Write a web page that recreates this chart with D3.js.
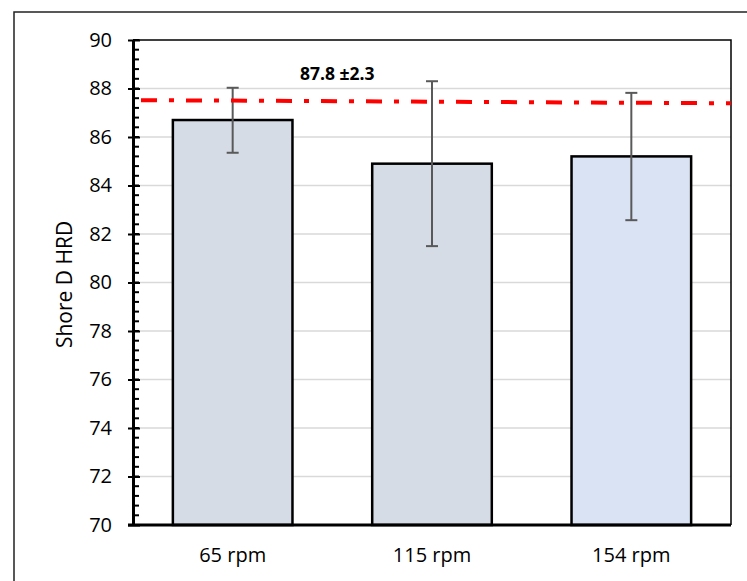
<!DOCTYPE html>
<html>
<head>
<meta charset="utf-8">
<script src="https://cdn.jsdelivr.net/npm/d3@7/dist/d3.min.js"></script>
<style>
  html, body { margin: 0; padding: 0; background: #fff; }
  svg { display: block; font-family: "Open Sans", "Liberation Sans", sans-serif; }
</style>
</head>
<body>
<script>
const categories = ["65 rpm", "115 rpm", "154 rpm"];
const means = [86.7, 84.9, 85.2];
const errUpper = [88.03, 88.3, 87.82];
const errLower = [85.35, 81.5, 82.57];
const barColors = ["#d6dce5", "#d6dce5", "#dae3f3"];
const yTicks = [70, 72, 74, 76, 78, 80, 82, 84, 86, 88, 90];
const refLineValues = [87.52, 87.39];
const refLabel = "87.8 ±2.3";
const yTitle = "Shore D HRD";

const W = 747, H = 581;
const m = { left: 133, right: 731, top: 40, bottom: 525 };

const svg = d3.select("body").append("svg").attr("width", W).attr("height", H);

// outer border
svg.append("rect").attr("x", 14).attr("y", 12).attr("width", W + 20).attr("height", H + 20)
  .attr("fill", "none").attr("stroke", "#222").attr("stroke-width", 1.5);

const x = d3.scaleBand().domain(categories).range([m.left, m.right]).paddingInner(0.4).paddingOuter(0.2);
const y = d3.scaleLinear().domain([70, 90]).range([m.bottom, m.top]);

// gridlines
svg.append("g").selectAll("line").data(yTicks.filter(t => t > 70 && t < 90)).join("line")
  .attr("x1", m.left).attr("x2", m.right)
  .attr("y1", d => y(d)).attr("y2", d => y(d))
  .attr("stroke", "#d9d9d9").attr("stroke-width", 1.5);

// frame top & right
svg.append("path")
  .attr("d", `M${m.left},${m.top}H${m.right}V${m.bottom}`)
  .attr("fill", "none").attr("stroke", "#000").attr("stroke-width", 1.5);

// bars
svg.append("g").selectAll("rect").data(categories).join("rect")
  .attr("x", d => x(d)).attr("width", x.bandwidth())
  .attr("y", (d, i) => y(means[i])).attr("height", (d, i) => y(70) - y(means[i]))
  .attr("fill", (d, i) => barColors[i])
  .attr("stroke", "#000").attr("stroke-width", 2.5);

// error bars
const eb = svg.append("g").attr("stroke", "#595959").attr("stroke-width", 2);
categories.forEach((c, i) => {
  const cx = x(c) + x.bandwidth() / 2;
  eb.append("line").attr("x1", cx).attr("x2", cx).attr("y1", y(errUpper[i])).attr("y2", y(errLower[i]));
  eb.append("line").attr("x1", cx - 6).attr("x2", cx + 6).attr("y1", y(errUpper[i])).attr("y2", y(errUpper[i]));
  eb.append("line").attr("x1", cx - 6).attr("x2", cx + 6).attr("y1", y(errLower[i])).attr("y2", y(errLower[i]));
});

// reference line
svg.append("line")
  .attr("x1", m.left + 8).attr("x2", m.right)
  .attr("y1", y(refLineValues[0])).attr("y2", y(refLineValues[1]))
  .attr("stroke", "#ff0000").attr("stroke-width", 4)
  .attr("stroke-dasharray", "16,12,5,12");

svg.append("text").attr("x", 300).attr("y", 80)
  .attr("font-weight", "bold").attr("font-size", 17.5).attr("fill", "#000")
  .text(refLabel);

// y axis
const minorTicks = d3.range(70, 90.001, 0.4);
svg.append("g").selectAll("line").data(minorTicks).join("line")
  .attr("x1", m.left).attr("x2", m.left + 6)
  .attr("y1", d => y(d)).attr("y2", d => y(d))
  .attr("stroke", "#000").attr("stroke-width", 2);

const yAxis = d3.axisLeft(y).tickValues(yTicks).tickSize(5).tickPadding(16).tickSizeOuter(0);
const ga = svg.append("g").attr("transform", `translate(${m.left},0)`).call(yAxis);
ga.select(".domain").attr("stroke", "#000").attr("stroke-width", 3);
ga.selectAll(".tick line").attr("stroke", "#000").attr("stroke-width", 2).attr("x2", -5).attr("x1", 7);
ga.selectAll(".tick text").attr("font-size", 20).attr("fill", "#000")
  .attr("font-family", "Open Sans, sans-serif").attr("dx", 0);

// x axis
const xAxis = d3.axisBottom(x).tickSize(0).tickPadding(23);
const gx = svg.append("g").attr("transform", `translate(0,${m.bottom})`).call(xAxis);
gx.select(".domain").attr("d", `M${m.left - 5},0H${m.right}`).attr("stroke", "#000").attr("stroke-width", 3);
gx.selectAll(".tick text").attr("font-size", 20).attr("fill", "#000")
  .attr("font-family", "Open Sans, sans-serif");

// y title
svg.append("text")
  .attr("transform", `translate(72,${(m.top + m.bottom) / 2 + 2}) rotate(-90)`)
  .attr("text-anchor", "middle").attr("font-size", 21).attr("fill", "#000")
  .text(yTitle);
</script>
</body>
</html>
